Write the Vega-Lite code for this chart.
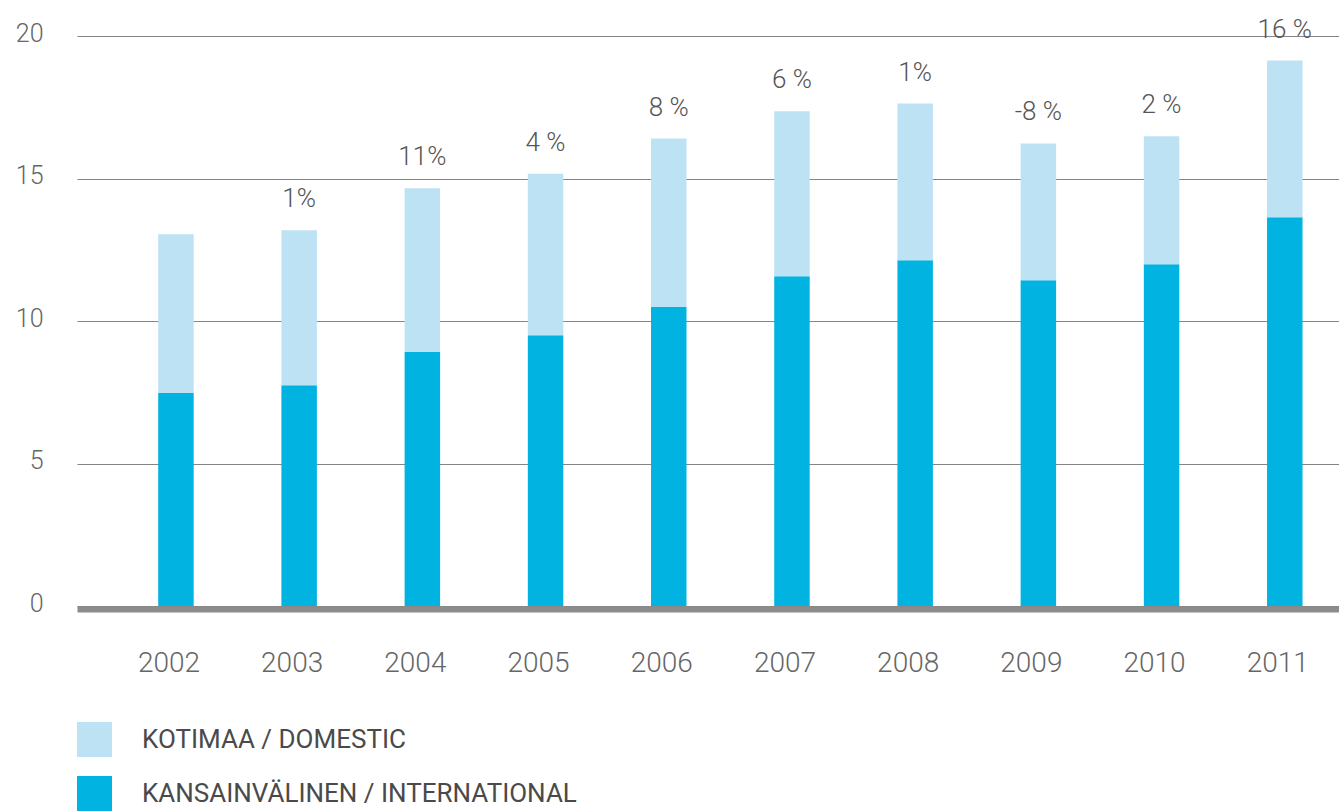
{
  "$schema": "https://vega.github.io/schema/vega-lite/v6.json",
  "width": 1262,
  "height": 570,
  "autosize": {"type": "none"},
  "padding": {"left": 77, "top": 36, "right": 0, "bottom": 205},
  "background": "white",
  "config": {
    "view": {"stroke": null},
    "font": "Roboto"
  },
  "datasets": {
    "bars": [
      {"year": "2002", "series": "KANSAINVÄLINEN / INTERNATIONAL", "value": 7.47},
      {"year": "2002", "series": "KOTIMAA / DOMESTIC", "value": 5.57},
      {"year": "2003", "series": "KANSAINVÄLINEN / INTERNATIONAL", "value": 7.75},
      {"year": "2003", "series": "KOTIMAA / DOMESTIC", "value": 5.43},
      {"year": "2004", "series": "KANSAINVÄLINEN / INTERNATIONAL", "value": 8.91},
      {"year": "2004", "series": "KOTIMAA / DOMESTIC", "value": 5.75},
      {"year": "2005", "series": "KANSAINVÄLINEN / INTERNATIONAL", "value": 9.5},
      {"year": "2005", "series": "KOTIMAA / DOMESTIC", "value": 5.67},
      {"year": "2006", "series": "KANSAINVÄLINEN / INTERNATIONAL", "value": 10.49},
      {"year": "2006", "series": "KOTIMAA / DOMESTIC", "value": 5.91},
      {"year": "2007", "series": "KANSAINVÄLINEN / INTERNATIONAL", "value": 11.57},
      {"year": "2007", "series": "KOTIMAA / DOMESTIC", "value": 5.79},
      {"year": "2008", "series": "KANSAINVÄLINEN / INTERNATIONAL", "value": 12.13},
      {"year": "2008", "series": "KOTIMAA / DOMESTIC", "value": 5.5},
      {"year": "2009", "series": "KANSAINVÄLINEN / INTERNATIONAL", "value": 11.43},
      {"year": "2009", "series": "KOTIMAA / DOMESTIC", "value": 4.8},
      {"year": "2010", "series": "KANSAINVÄLINEN / INTERNATIONAL", "value": 11.99},
      {"year": "2010", "series": "KOTIMAA / DOMESTIC", "value": 4.49},
      {"year": "2011", "series": "KANSAINVÄLINEN / INTERNATIONAL", "value": 13.64},
      {"year": "2011", "series": "KOTIMAA / DOMESTIC", "value": 5.5}
    ],
    "changes": [
      {"year": "2003", "change": "1%"},
      {"year": "2004", "change": "11%"},
      {"year": "2005", "change": "4 %"},
      {"year": "2006", "change": "8 %"},
      {"year": "2007", "change": "6 %"},
      {"year": "2008", "change": "1%"},
      {"year": "2009", "change": "-8 %"},
      {"year": "2010", "change": "2 %"},
      {"year": "2011", "change": "16 %"}
    ]
  },
  "layer": [
    {
      "data": {"name": "bars"},
      "mark": {"type": "bar"},
      "encoding": {
        "x": {
          "field": "year",
          "type": "ordinal",
          "scale": {"paddingInner": 0.712, "paddingOuter": 0.4776, "align": 0.69},
          "axis": {
            "title": null,
            "ticks": false,
            "domain": true,
            "domainColor": "#8c8c8c",
            "domainWidth": 6,
            "offset": 3,
            "labelAngle": 0,
            "labelFont": "Roboto",
            "labelFontWeight": 300,
            "labelFontSize": 28,
            "labelColor": "#666666",
            "labelBaseline": "middle",
            "labelPadding": 54,
            "labelOffset": -7
          }
        },
        "y": {
          "field": "value",
          "type": "quantitative",
          "aggregate": "sum",
          "stack": "zero",
          "scale": {"domain": [0, 20], "nice": false},
          "axis": {
            "title": null,
            "values": [0, 5, 10, 15, 20],
            "domain": false,
            "ticks": false,
            "grid": true,
            "gridColor": "#858585",
            "gridWidth": 1.2,
            "labelFont": "Roboto",
            "labelFontWeight": 300,
            "labelFontSize": 25,
            "labelColor": "#666666",
            "labelAlign": "right",
            "labelBaseline": "middle",
            "labelPadding": 34,
            "labelOffset": -3
          }
        },
        "color": {
          "field": "series",
          "type": "nominal",
          "scale": {
            "domain": ["KOTIMAA / DOMESTIC", "KANSAINVÄLINEN / INTERNATIONAL"],
            "range": ["#bde2f4", "#00b3e0"]
          },
          "legend": {
            "title": null,
            "orient": "none",
            "legendX": 0,
            "legendY": 686,
            "direction": "vertical",
            "padding": 0,
            "symbolType": "square",
            "symbolSize": 1225,
            "symbolStrokeWidth": 0,
            "symbolOpacity": 1,
            "labelFont": "Roboto",
            "labelFontSize": 26,
            "labelFontWeight": 400,
            "labelColor": "#4a4a4a",
            "labelOffset": 30,
            "labelLimit": 800,
            "rowPadding": 19
          }
        },
        "order": {"field": "series", "type": "nominal", "sort": "ascending"}
      }
    },
    {
      "data": {"name": "bars"},
      "transform": [
        {"aggregate": [{"op": "sum", "field": "value", "as": "total"}], "groupby": ["year"]},
        {"lookup": "year", "from": {"data": {"name": "changes"}, "key": "year", "fields": ["change"]}},
        {"filter": "datum.change != null"}
      ],
      "mark": {
        "type": "text",
        "font": "Roboto",
        "fontWeight": 300,
        "fontSize": 26,
        "color": "#555555",
        "baseline": "middle",
        "dy": -31
      },
      "encoding": {
        "x": {"field": "year", "type": "ordinal"},
        "y": {"field": "total", "type": "quantitative"},
        "text": {"field": "change", "type": "nominal"}
      }
    }
  ]
}
